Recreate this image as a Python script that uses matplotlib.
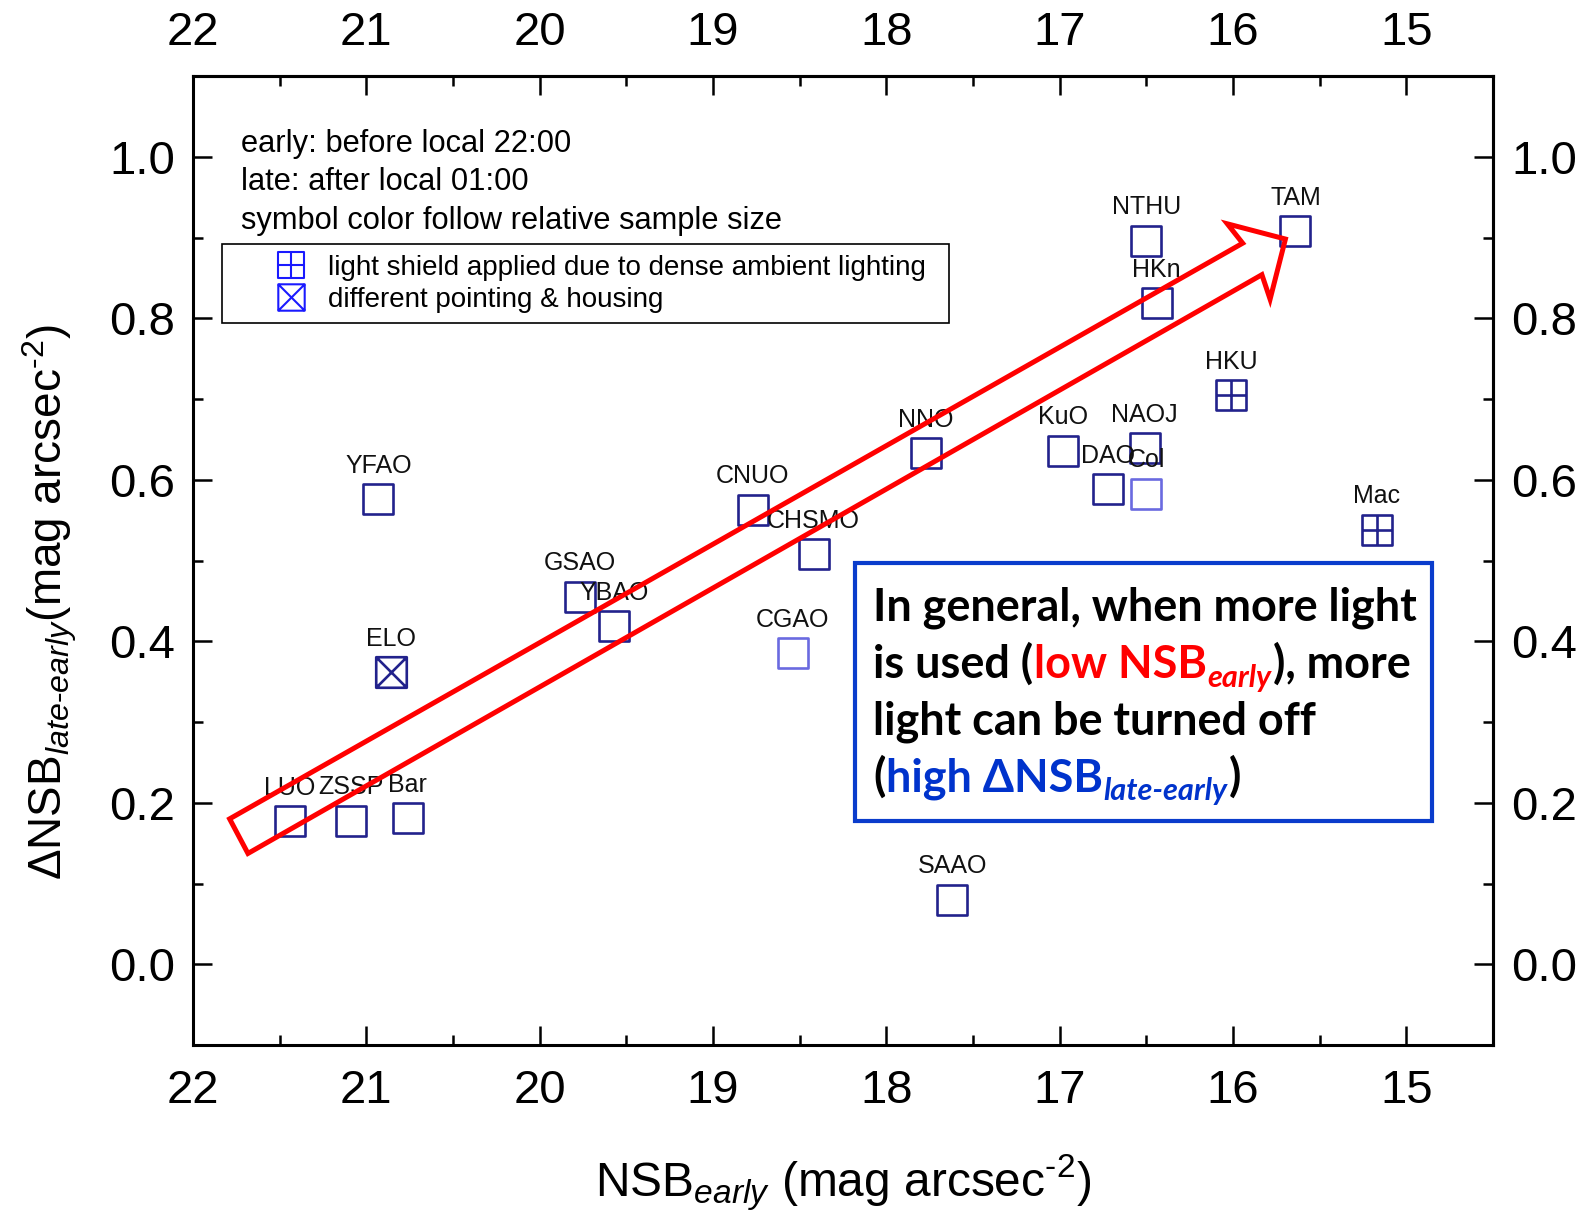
import matplotlib
matplotlib.use('Agg')
import matplotlib.pyplot as plt
import matplotlib.transforms as mtransforms
from matplotlib.path import Path
from matplotlib.patches import Polygon, Rectangle
from matplotlib.lines import Line2D
from matplotlib.ticker import MultipleLocator, FormatStrFormatter

plt.rcParams['font.family'] = ['Liberation Sans', 'DejaVu Sans']
plt.rcParams['mathtext.fontset'] = 'custom'
plt.rcParams['mathtext.rm'] = 'Liberation Sans'
plt.rcParams['mathtext.it'] = 'Liberation Sans:italic'
plt.rcParams['mathtext.bf'] = 'Liberation Sans:bold'

# ---------------- data ----------------
sites = ['LUO', 'ZSSP', 'Bar', 'YFAO', 'ELO', 'GSAO', 'YBAO', 'CNUO', 'CHSMO',
         'CGAO', 'NNO', 'SAAO', 'KuO', 'DAO', 'NAOJ', 'Col', 'NTHU', 'HKn',
         'HKU', 'Mac', 'TAM']
nsb_early = [21.44, 21.09, 20.76, 20.93, 20.86, 19.77, 19.57, 18.77, 18.42,
             18.54, 17.77, 17.62, 16.98, 16.72, 16.51, 16.50, 16.50, 16.44,
             16.01, 15.17, 15.64]
delta_nsb = [0.177, 0.178, 0.181, 0.576, 0.362, 0.455, 0.419, 0.563, 0.508,
             0.385, 0.633, 0.080, 0.636, 0.588, 0.639, 0.583, 0.896, 0.819,
             0.705, 0.538, 0.908]
# symbol type: plain / shield (light shield) / pointing (different pointing & housing)
symbol_kind = ['plain', 'plain', 'plain', 'plain', 'pointing', 'plain', 'plain',
               'plain', 'plain', 'plain', 'plain', 'plain', 'plain', 'plain',
               'plain', 'plain', 'plain', 'plain', 'shield', 'shield', 'plain']
# relative sample size class (drives symbol colour)
sample_size = ['large', 'large', 'large', 'large', 'large', 'large', 'large',
               'large', 'large', 'small', 'large', 'large', 'large', 'large',
               'large', 'small', 'large', 'large', 'large', 'large', 'large']

x_ticks = [22, 21, 20, 19, 18, 17, 16, 15]
y_ticks = [0.0, 0.2, 0.4, 0.6, 0.8, 1.0]
legend_labels = ['light shield applied due to dense ambient lighting',
                 'different pointing & housing']
notes = ['early: before local 22:00', 'late: after local 01:00',
         'symbol color follow relative sample size']

# ---------------- markers ----------------
M, L, C = Path.MOVETO, Path.LINETO, Path.CLOSEPOLY
sq_v = [(-1, -1), (1, -1), (1, 1), (-1, 1), (-1, -1)]
sq_c = [M, L, L, L, C]
marker_paths = {
    'plain': Path(sq_v, sq_c),
    'shield': Path(sq_v + [(0, -1), (0, 1), (-1, 0), (1, 0)], sq_c + [M, L, M, L]),
    'pointing': Path(sq_v + [(-1, -1), (1, 1), (-1, 1), (1, -1)], sq_c + [M, L, M, L]),
}
size_colors = {'large': '#22228c', 'small': '#6a6ae0'}

fig = plt.figure(figsize=(15.96, 12.15), dpi=100)
ax = fig.add_axes([0.1209, 0.1399, 0.8146, 0.7975])

for x, y, name, kind, ss in zip(nsb_early, delta_nsb, sites, symbol_kind, sample_size):
    ax.plot([x], [y], linestyle='none', marker=marker_paths[kind], ms=22,
            mfc='none', mec=size_colors[ss], mew=1.9, zorder=3)
    ax.annotate(name, (x, y), xytext=(0, 19), textcoords='offset points',
                ha='center', va='baseline', fontsize=18, color='#111111', zorder=4)

ax.set_xlim(22, 14.5)
ax.set_ylim(-0.1, 1.1)
ax.set_xticks(x_ticks)
ax.set_yticks(y_ticks)
ax.xaxis.set_minor_locator(MultipleLocator(0.5))
ax.yaxis.set_minor_locator(MultipleLocator(0.1))
ax.xaxis.set_major_formatter(FormatStrFormatter('%d'))
ax.yaxis.set_major_formatter(FormatStrFormatter('%.1f'))
ax.tick_params(which='both', direction='in', width=1.8, labelsize=34)
ax.tick_params(which='major', length=14)
ax.tick_params(which='minor', length=7)
ax.tick_params(axis='x', which='major', pad=17)
ax.tick_params(axis='y', which='major', pad=13)
for sp in ax.spines.values():
    sp.set_linewidth(2.2)

ident = (lambda v: v, lambda v: v)
secx = ax.secondary_xaxis('top', functions=ident)
secx.set_xticks(x_ticks)
secx.xaxis.set_minor_locator(MultipleLocator(0.5))
secx.xaxis.set_major_formatter(FormatStrFormatter('%d'))
secx.tick_params(which='both', direction='in', width=1.8, labelsize=34)
secx.tick_params(which='major', length=14, pad=15.5)
secx.tick_params(which='minor', length=7)
secx.spines['top'].set_linewidth(2.2)
secy = ax.secondary_yaxis('right', functions=ident)
secy.set_yticks(y_ticks)
secy.yaxis.set_minor_locator(MultipleLocator(0.1))
secy.yaxis.set_major_formatter(FormatStrFormatter('%.1f'))
secy.tick_params(which='both', direction='in', width=1.8, labelsize=34)
secy.tick_params(which='major', length=14, pad=13)
secy.tick_params(which='minor', length=7)
secy.spines['right'].set_linewidth(2.2)

ax.set_xlabel(r'NSB$_{early}$ (mag arcsec$^{\text{-}2}$)', fontsize=34.5, va='baseline')
ax.xaxis.set_label_coords(0.5, -0.156)
ax.set_ylabel(r'$\Delta$NSB$_{late\text{-}early}$(mag arcsec$^{\text{-}2}$)', fontsize=33,
              va='baseline')
ax.yaxis.set_label_coords(-0.100, 0.457)

# notes
for note, yy in zip(notes, [0.9219, 0.8823, 0.8421]):
    ax.text(0.0369, yy, note, transform=ax.transAxes, fontsize=22.2,
            va='baseline', ha='left')

# legend
handles = [Line2D([], [], linestyle='none', marker=marker_paths[k], ms=19,
                  mfc='none', mec='#1a1aff', mew=1.5)
           for k in ['shield', 'pointing']]
leg = ax.legend(handles, legend_labels, loc='upper left',
                bbox_to_anchor=(0.0223, 0.7441, 0.5592, 0.0825), mode='expand',
                borderaxespad=0, fontsize=20, fancybox=False, framealpha=1,
                edgecolor='black', borderpad=0.38, labelspacing=0.22,
                handlelength=4.2, handletextpad=-0.75, numpoints=1)
leg.get_frame().set_linewidth(1.2)

# red hollow arrow (axes fraction outline)
arrow_outline = [(0.0282, 0.2334), (0.8074, 0.8275), (0.7956, 0.8475),
                 (0.8403, 0.8318), (0.8285, 0.7697), (0.8222, 0.7950),
                 (0.0423, 0.1977)]
ax.add_patch(Polygon(arrow_outline, closed=True, transform=ax.transAxes,
                     facecolor='none', edgecolor='#ff0000', linewidth=3.6,
                     joinstyle='miter', zorder=6))

# message box
ax.add_patch(Rectangle((0.5092, 0.2312), 0.4439, 0.2662, transform=ax.transAxes,
                       facecolor='white', edgecolor='#0a3ccc', linewidth=3,
                       zorder=7))
BLACK, RED, BLUE = '#000000', '#ff0000', '#0033cc'
box_lines = [
    [('In general, when more light', BLACK, 'n')],
    [('is used (', BLACK, 'n'), ('low NSB', RED, 'n'), ('early', RED, 's'),
     ('), more', BLACK, 'n')],
    [('light can be turned off', BLACK, 'n')],
    [('(', BLACK, 'n'), ('high \u0394NSB', BLUE, 'n'), ('late-early', BLUE, 's'),
     (')', BLACK, 'n')],
]
box_base = [0.4386, 0.3787, 0.3209, 0.2621]
box_fs = 32.4
renderer = fig.canvas.get_renderer()
for pieces, yb in zip(box_lines, box_base):
    off = 0.0
    for s, col, kind in pieces:
        fs = box_fs if kind == 'n' else box_fs * 0.68
        dy = 0 if kind == 'n' else -box_fs * 0.2
        tr = mtransforms.offset_copy(ax.transAxes, fig=fig, x=off, y=dy, units='points')
        t = ax.text(0.5231, yb, s, transform=tr, fontsize=fs, color=col,
                    fontweight='bold', fontstyle='italic' if kind == 's' else 'normal',
                    family=['Lato', 'Open Sans', 'DejaVu Sans'],
                    va='baseline', ha='left', zorder=8)
        w = t.get_window_extent(renderer).width
        off += w * 72.0 / fig.dpi + (1.0 if kind == 's' else 0.5)

fig.savefig('out.png', dpi=100)
